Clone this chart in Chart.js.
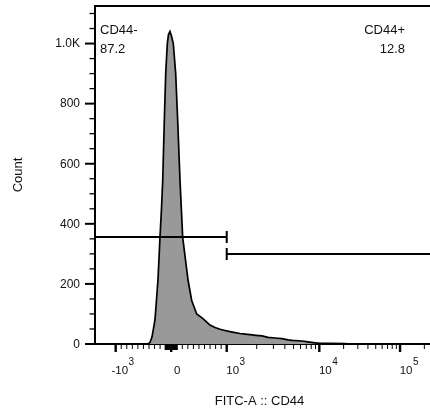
<!DOCTYPE html>
<html><head><meta charset="utf-8">
<script src="https://cdn.jsdelivr.net/npm/chart.js@4.4.1/dist/chart.umd.min.js"></script>
<style>html,body{margin:0;padding:0;background:#fff;}#wrap{width:430px;height:412px;position:relative;}</style>
</head><body><div id="wrap"><canvas id="c" width="430" height="412"></canvas></div>
<script>
// ---------------- data ----------------
// FITC-A :: CD44 fluorescence (bin position) and cell count
const fitcValues = [-1605, -418, -382, -346, -292, -238, -202, -175, -153, -124, -99, -70, -49, -22, 5, 38, 81, 117, 159, 207, 303, 369, 459, 550, 627, 699, 789, 879, 969, 1077, 1207, 1353, 1519, 1707, 1967, 2271, 2628, 3121, 3720, 4334, 4804, 6245, 7335, 8877, 10201, 13570, 20800, 24000, 235000];
const counts     = [0, 0, 5, 23, 80, 213, 355, 450, 543, 743, 900, 1000, 1030, 1040, 1025, 1000, 900, 743, 543, 355, 213, 145, 100, 88, 75, 63, 55, 49, 45, 41, 38, 35, 33, 31, 29, 27, 22, 20, 18, 14, 12, 10, 7, 4, 2, 2, 1, 0, 0];

const xRange = [-1605, 235000];
const yRange = [0, 1125];

const xMajorTicks = [-1000, 0, 1000, 10000, 100000];
const xTickSign   = ['-', '', '', '', ''];
const xTickBase   = ['10', '0', '10', '10', '10'];
const xTickExp    = ['3', '', '3', '4', '5'];

const yMajorTicks = [0, 200, 400, 600, 800, 1000];
const yTickLabels = ['0', '200', '400', '600', '800', '1.0K'];
const yMinorStep  = 50;

const gateNames    = ['CD44-', 'CD44+'];
const gatePercents = ['87.2', '12.8'];
const gateFrom     = [-2000, 1000];
const gateTo       = [1000, 262144];
const gateLevel    = [355, 298];

const xTitle = 'FITC-A :: CD44';
const yTitle = 'Count';

// ---------------- biexponential-like display transform ----------------
const LIN = 1000;                      // half width of the linear zone
const DEC_A = 1.850, DEC_B = -0.182;   // shape of first log decade
const DEC2 = 1.454;                    // width of higher decades
function toDisplay(v) {
  const a = Math.abs(v), s = v < 0 ? -1 : 1;
  if (a <= LIN) return v / LIN;
  const u = Math.log10(a / LIN);
  const t = u <= 1 ? 1 + DEC_A * u + DEC_B * u * u : 1 + DEC_A + DEC_B + DEC2 * (u - 1);
  return s * t;
}

// minor x ticks: 1..9 x 10^e, both signs
const xMinorTicks = [];
for (const s of [-1, 1]) for (let e = 1; e <= 5; e++) for (let m = 1; m <= 9; m++) {
  const v = s * m * Math.pow(10, e);
  if (!xMajorTicks.includes(v) && v >= xRange[0] && v <= xRange[1]) xMinorTicks.push(v);
}

const FONT = '"Liberation Sans", Arial, sans-serif';

const decor = {
  id: 'decor',
  afterDatasetsDraw(chart) {
    const {ctx, chartArea: ca, scales: {x, y}} = chart;
    ctx.save();
    ctx.strokeStyle = '#000';
    ctx.fillStyle = '#111';
    // top frame line
    ctx.lineWidth = 2;
    ctx.beginPath(); ctx.moveTo(ca.left - 1, ca.top); ctx.lineTo(ca.right, ca.top); ctx.stroke();

    // gates
    ctx.save();
    ctx.beginPath(); ctx.rect(ca.left + 1, ca.top, ca.right - ca.left, ca.bottom - ca.top); ctx.clip();
    ctx.lineWidth = 2;
    for (let i = 0; i < gateNames.length; i++) {
      const x1 = x.getPixelForValue(toDisplay(gateFrom[i]));
      const x2 = x.getPixelForValue(toDisplay(gateTo[i]));
      const gy = Math.round(y.getPixelForValue(gateLevel[i]));
      ctx.beginPath();
      ctx.moveTo(x1, gy); ctx.lineTo(x2, gy);
      ctx.moveTo(x1, gy - 6); ctx.lineTo(x1, gy + 6);
      ctx.moveTo(x2, gy - 6); ctx.lineTo(x2, gy + 6);
      ctx.stroke();
    }
    ctx.restore();

    // gate annotations
    ctx.font = '13px ' + FONT;
    ctx.textBaseline = 'alphabetic';
    ctx.textAlign = 'left';
    ctx.fillText(gateNames[0], ca.left + 5, ca.top + 28);
    ctx.fillText(gatePercents[0], ca.left + 5, ca.top + 47);
    ctx.textAlign = 'right';
    ctx.fillText(gateNames[1], ca.right - 25, ca.top + 28);
    ctx.fillText(gatePercents[1], ca.right - 25, ca.top + 47);

    // y ticks
    const yl = ca.left - 1;
    for (let v = yRange[0]; v <= yRange[1]; v += yMinorStep) {
      const py = y.getPixelForValue(v);
      const major = yMajorTicks.includes(v);
      ctx.lineWidth = major ? 2 : 1.3;
      ctx.beginPath(); ctx.moveTo(yl, py); ctx.lineTo(yl - (major ? 9 : 4.5), py); ctx.stroke();
    }
    ctx.font = '12px ' + FONT;
    ctx.textAlign = 'right'; ctx.textBaseline = 'middle';
    yMajorTicks.forEach((v, i) => ctx.fillText(yTickLabels[i], ca.left - 15, y.getPixelForValue(v) + 0.5));

    // x ticks
    const xb = ca.bottom + 1;
    xMinorTicks.forEach(v => {
      const px = x.getPixelForValue(toDisplay(v));
      const near = Math.abs(v) <= 100;
      ctx.lineWidth = near ? 2 : 1;
      ctx.beginPath(); ctx.moveTo(px, xb); ctx.lineTo(px, xb + (near ? 5 : 4)); ctx.stroke();
    });
    ctx.lineWidth = 2.4;
    xMajorTicks.forEach(v => {
      const px = x.getPixelForValue(toDisplay(v));
      ctx.beginPath(); ctx.moveTo(px, xb); ctx.lineTo(px, xb + 7); ctx.stroke();
    });
    // x tick labels
    ctx.textBaseline = 'alphabetic';
    xMajorTicks.forEach((v, i) => {
      const px = x.getPixelForValue(toDisplay(v));
      const cx = px + 6;
      ctx.font = '11.5px ' + FONT;
      const w = ctx.measureText(xTickBase[i]).width;
      ctx.textAlign = 'center';
      ctx.fillText(xTickBase[i], cx, 374);
      if (xTickSign[i]) { ctx.textAlign = 'right'; ctx.fillText(xTickSign[i], cx - w / 2, 374); }
      if (xTickExp[i]) { ctx.font = '10px ' + FONT; ctx.textAlign = 'left'; ctx.fillText(xTickExp[i], cx + w / 2 + 0.5, 365); }
    });

    // axis titles
    ctx.font = '13px ' + FONT;
    ctx.textAlign = 'center'; ctx.textBaseline = 'alphabetic';
    ctx.fillText(xTitle, (ca.left + ca.right) / 2 - 3, 405);
    ctx.save();
    ctx.translate(22, (ca.top + ca.bottom) / 2);
    ctx.rotate(-Math.PI / 2);
    ctx.fillText(yTitle, 0, 0);
    ctx.restore();
    ctx.restore();
  }
};

new Chart(document.getElementById('c'), {
  type: 'line',
  data: {
    datasets: [{
      data: fitcValues.map((v, i) => ({x: toDisplay(v), y: counts[i]})),
      borderColor: '#000',
      borderWidth: 1.7,
      backgroundColor: '#999999',
      fill: 'origin',
      pointRadius: 0,
      tension: 0
    }]
  },
  options: {
    responsive: false,
    animation: false,
    devicePixelRatio: 1,
    layout: {padding: {top: 6, right: 0, left: 0, bottom: 0}},
    plugins: {legend: {display: false}, tooltip: {enabled: false}},
    scales: {
      x: {
        type: 'linear',
        min: toDisplay(xRange[0]), max: toDisplay(xRange[1]),
        grid: {display: false},
        ticks: {display: false},
        border: {display: true, color: '#000', width: 2},
        afterFit: s => { s.height = 68; }
      },
      y: {
        type: 'linear',
        min: yRange[0], max: yRange[1],
        grid: {display: false},
        ticks: {display: false},
        border: {display: true, color: '#000', width: 2},
        afterFit: s => { s.width = 95; }
      }
    }
  },
  plugins: [decor]
});
</script></body></html>
